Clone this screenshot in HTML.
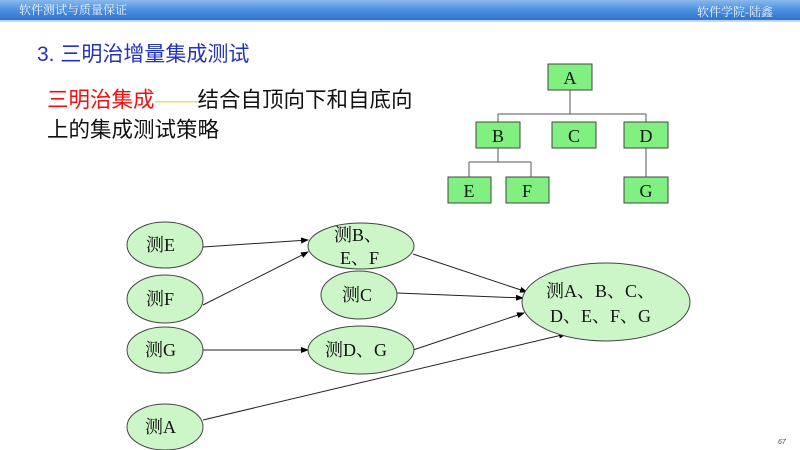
<!DOCTYPE html>
<html><head><meta charset="utf-8"><style>
body{margin:0;width:800px;height:450px;overflow:hidden;background:#fff;font-family:"Liberation Sans","Noto Sans CJK SC",sans-serif;}
svg{position:absolute;left:0;top:0}
</style></head><body>
<svg width="800" height="450" xmlns="http://www.w3.org/2000/svg">
<defs>
<linearGradient id="hb" x1="0" y1="0" x2="0" y2="1"><stop offset="0" stop-color="#8ab9ec"/><stop offset="0.5" stop-color="#4a8fe0"/><stop offset="1" stop-color="#2e72cc"/></linearGradient>
<marker id="ar" markerWidth="8" markerHeight="6" refX="7" refY="3" orient="auto" markerUnits="userSpaceOnUse"><path d="M0,0 L8,3 L0,6 z" fill="#000"/></marker>
</defs>
<rect x="0" y="0" width="800" height="20" fill="url(#hb)"/>
<rect x="0" y="20" width="800" height="2" fill="#c5d5ea"/>
<text x="19" y="14" font-size="12" fill="#eef4ff" font-family="Liberation Serif,Noto Serif CJK SC,serif">软件测试与质量保证</text>
<text x="697" y="16" font-size="12" fill="#eef4ff" font-family="Liberation Serif,Noto Serif CJK SC,serif">软件学院-陆鑫</text>
<text x="37" y="61" font-size="21" fill="#2233bb">3. 三明治增量集成测试</text>
<text x="47" y="107" font-size="21.5"><tspan fill="#ee1111">三明治集成</tspan><tspan fill="#dddd66">——</tspan><tspan fill="#111">结合自顶向下和自底向</tspan></text>
<text x="47" y="137" font-size="21.5" fill="#111">上的集成测试策略</text>
<g stroke="#555" stroke-width="1" fill="none">
<line x1="570" y1="90" x2="570" y2="114"/><line x1="498" y1="114" x2="646" y2="114"/>
<line x1="498" y1="114" x2="498" y2="122"/><line x1="646" y1="114" x2="646" y2="122"/>
<line x1="498" y1="148" x2="498" y2="162"/><line x1="469" y1="162" x2="531" y2="162"/>
<line x1="469" y1="162" x2="469" y2="177"/><line x1="531" y1="162" x2="531" y2="177"/>
<line x1="646" y1="148" x2="646" y2="177"/>
</g>
<g fill="#80f080" stroke="#444" stroke-width="1">
<rect x="548" y="64" width="44" height="26"/>
<rect x="476" y="122" width="44" height="26"/><rect x="552" y="122" width="44" height="26"/><rect x="624" y="122" width="44" height="26"/>
<rect x="448" y="177" width="43" height="26"/><rect x="506" y="177" width="43" height="26"/><rect x="624" y="177" width="44" height="26"/>
</g>
<g font-family="Liberation Serif,serif" font-size="18" text-anchor="middle" fill="#111">
<text x="570" y="84">A</text><text x="498" y="142">B</text><text x="574" y="142">C</text><text x="646" y="142">D</text>
<text x="469" y="197">E</text><text x="527" y="197">F</text><text x="646" y="197">G</text>
</g>
<g stroke="#222" stroke-width="1" marker-end="url(#ar)">
<line x1="203" y1="247" x2="308" y2="240"/>
<line x1="203" y1="305" x2="308" y2="252"/>
<line x1="203" y1="350" x2="308" y2="350"/>
<line x1="413" y1="254" x2="527" y2="292"/>
<line x1="397" y1="293" x2="523" y2="298"/>
<line x1="413" y1="350" x2="524" y2="313"/>
<line x1="203" y1="420" x2="566" y2="334"/>
</g>
<g fill="#ccf5c8" stroke="#444" stroke-width="1">
<ellipse cx="165" cy="245" rx="38" ry="23"/>
<ellipse cx="165" cy="299" rx="38" ry="24"/>
<ellipse cx="165" cy="350" rx="38" ry="23"/>
<ellipse cx="165" cy="427" rx="38" ry="23"/>
<ellipse cx="361" cy="246" rx="53" ry="23"/>
<ellipse cx="359" cy="295" rx="38" ry="24"/>
<ellipse cx="361" cy="350" rx="53" ry="24"/>
<ellipse cx="606" cy="302" rx="84" ry="39"/>
</g>
<g font-family="Liberation Serif,Noto Serif CJK SC,serif" font-size="18" fill="#111">
<text x="146" y="251">测E</text><text x="146" y="305">测F</text><text x="145" y="356">测G</text><text x="145" y="433">测A</text>
<text x="334" y="241">测B、</text><text x="340" y="264">E、F</text>
<text x="342" y="301">测C</text><text x="325" y="356">测D、G</text>
<text x="546" y="297">测A、B、C、</text><text x="550" y="322">D、E、F、G</text>
</g>
<text x="778" y="444" font-size="7" fill="#444" font-style="italic">67</text>
</svg>
</body></html>
